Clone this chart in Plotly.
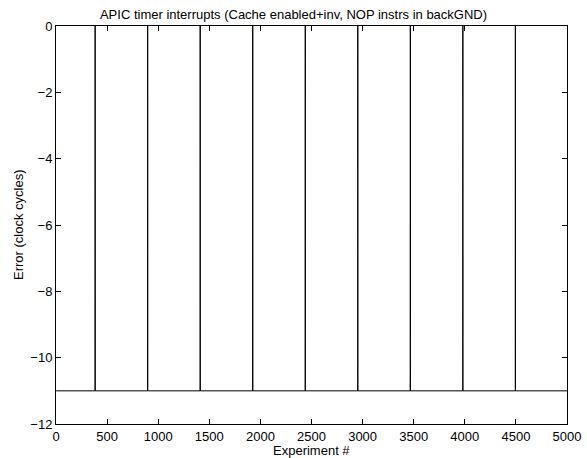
import plotly.graph_objects as go

# Data
baseline_error = -11          # error value for most experiments
spike_error = 0               # error value at the spikes
spike_experiments = [383, 897, 1411, 1925, 2439, 2953, 3467, 3981, 4495]
first_experiment = 1
last_experiment = 5000

x_ticks = [0, 500, 1000, 1500, 2000, 2500, 3000, 3500, 4000, 4500, 5000]
y_ticks = [-12, -10, -8, -6, -4, -2, 0]

# Build the series: baseline, with single-sample spikes
xs = [first_experiment]
ys = [baseline_error]
for s in spike_experiments:
    xs += [s - 1, s, s + 1]
    ys += [baseline_error, spike_error, baseline_error]
xs.append(last_experiment)
ys.append(baseline_error)

fig = go.Figure()
fig.add_trace(go.Scatter(x=xs, y=ys, mode="lines",
                         line=dict(color="black", width=1),
                         showlegend=False, hoverinfo="skip"))

FAM = "Liberation Sans, Arial, Helvetica, sans-serif"
font = dict(family=FAM, size=13, color="black")

axis_common = dict(
    showgrid=False, zeroline=False,
    showline=True, linecolor="black", linewidth=1,
    mirror="ticks", ticks="inside", ticklen=5, tickcolor="black", tickwidth=1,
    tickfont=font, automargin=False,
)

W, H = 587, 458
fig.update_layout(
    width=W, height=H,
    margin=dict(l=56, r=20, t=26, b=34, autoexpand=False),
    paper_bgcolor="white", plot_bgcolor="white",
    font=font,
    title=dict(text="APIC timer interrupts (Cache enabled+inv, NOP instrs in backGND)",
               x=0.5, xanchor="center", y=1 - 14 / H, yanchor="middle",
               font=font),
    xaxis=dict(range=[0, 5000], tickvals=x_ticks, ticktext=[str(v) for v in x_ticks],
               **axis_common),
    yaxis=dict(range=[-12, 0], tickvals=y_ticks, **axis_common),
    annotations=[
        dict(text="Experiment #", xref="paper", yref="paper", x=0.5, y=0,
             xanchor="center", yanchor="middle", yshift=-26, showarrow=False, font=font),
        dict(text="Error (clock cycles)", xref="paper", yref="paper", x=0, y=0.5,
             xanchor="center", yanchor="middle", xshift=-38, textangle=-90,
             showarrow=False, font=font),
    ],
)

# Remove the default page margin so the figure sits at the window's top-left corner
fig.write_html(
    "out.html",
    config={"displayModeBar": False, "staticPlot": True},
    post_script="document.body.style.margin='0';document.body.style.overflow='hidden';",
)
